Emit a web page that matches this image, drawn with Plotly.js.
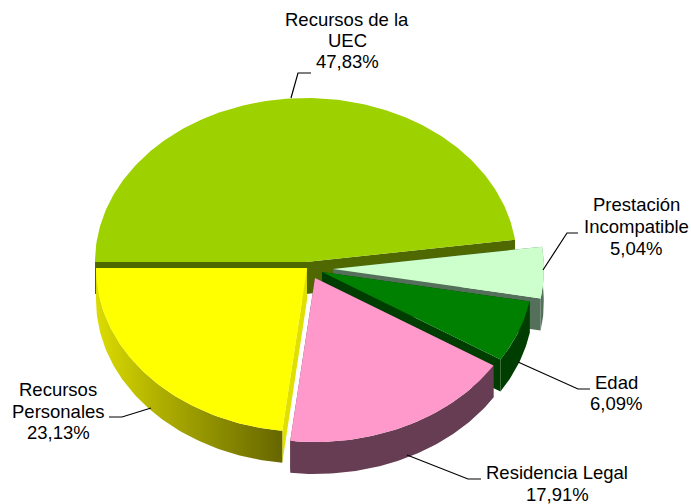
<!DOCTYPE html>
<html><head><meta charset="utf-8">
<script src="https://cdn.plot.ly/plotly-3.0.1.min.js"></script>
<style>html,body{margin:0;padding:0;background:#fff}#c{width:691px;height:504px}</style>
</head><body><div id="c"></div>
<script>
// Data
const categories = ["Recursos de la UEC","Prestación Incompatible","Edad","Residencia Legal","Recursos Personales"];
const shares = [47.83,5.04,6.09,17.91,23.13];
const labelLines = [["Recursos de la","UEC","47,83%"],["Prestación","Incompatible","5,04%"],["Edad","6,09%"],["Residencia Legal","17,91%"],["Recursos","Personales","23,13%"]];

// Styles and geometry of the tilted, exploded pie
const faceColors = ["#9dd100","#ccffcc","#008000","#ff99cc","#ffff00"];
const cutColors  = ["#4f6900","#55705a","#003d00","#663d52","#e0e000"];
const wallScales = [
  [[0,"#4f6900"],[1,"#4f6900"]],
  [[0,"#55705a"],[0.75,"#55705a"],[1,"#b5c9ba"]],
  [[0,"#003d00"],[1,"#003d00"]],
  [[0,"#663d52"],[1,"#663d52"]],
  [[0,"#dcdc00"],[0.35,"#aeae00"],[1,"#666600"]]
];
const centers = [[306,262],[333,269],[322,272],[315,278],[307,268]];
const drawOrder = [0,1,2,4,3];
const RX = 211, RY = 164, DEPTH = 32, START_DEG = -90;
const leaders = [
  [[291,98],[298,73],[311,73]],
  [[543,270],[567,233],[578,233]],
  [[518,362],[578,389],[590,389]],
  [[407,455],[468,479],[481,479]],
  [[151,408],[122,417],[109,417]]
];
const labelX = [347,636,616,557,58];
const labelY = [[19,40,61],[204,226,248],[382,403],[472,494],[389,411,432]];

const total = shares.reduce((a,b)=>a+b,0);
let acc = START_DEG;
const spans = shares.map(v=>{const a=acc; acc+=v/total*360; return [a,acc];});
const rad = d=>d*Math.PI/180;
function pt(i,deg){const c=centers[i];return [c[0]+RX*Math.sin(rad(deg)),c[1]-RY*Math.cos(rad(deg))];}
function arc(i,a,b){const n=Math.max(2,Math.ceil(Math.abs(b-a)));const o=[];for(let k=0;k<=n;k++)o.push(pt(i,a+(b-a)*k/n));return o;}
function poly(points,color,extra){
  const t={type:"scatter",mode:"lines",x:points.map(p=>p[0]).concat(points[0][0]),y:points.map(p=>p[1]).concat(points[0][1]),
    fill:"toself",fillcolor:color,line:{width:0,color:color},hoverinfo:"skip",showlegend:false};
  return Object.assign(t,extra||{});
}
const traces=[];
drawOrder.forEach(i=>{
  const [a,b]=spans[i], c=centers[i];
  const down=p=>[p[0],p[1]+DEPTH];
  [a,b].forEach(d=>{const e=pt(i,d);traces.push(poly([c,e,down(e),down(c)],cutColors[i]));});
  if(i!==0){
    const rim=arc(i,a,b);
    const wallPts=rim.concat(rim.slice().reverse().map(down));
    traces.push(poly(wallPts,cutColors[i],{fillgradient:{type:"horizontal",colorscale:wallScales[i]}}));
  }
  traces.push(poly([c].concat(arc(i,a,b)),faceColors[i],{name:categories[i]}));
});
leaders.forEach(l=>traces.push({type:"scatter",mode:"lines",x:l.map(p=>p[0]),y:l.map(p=>p[1]),line:{color:"#000",width:1.2},hoverinfo:"skip",showlegend:false}));

const annotations=[];
labelLines.forEach((lines,i)=>lines.forEach((t,k)=>annotations.push({x:labelX[i],y:labelY[i][k],xref:"x",yref:"y",text:t,showarrow:false,align:"center",xanchor:"center",yanchor:"middle",font:{family:"Liberation Sans, Arial, sans-serif",size:18.5,color:"#000"}})));
const axis={visible:false,fixedrange:true,showgrid:false,zeroline:false};
Plotly.newPlot("c",traces,{width:691,height:504,margin:{l:0,r:0,t:0,b:0,pad:0},paper_bgcolor:"#fff",plot_bgcolor:"#fff",showlegend:false,
  xaxis:Object.assign({range:[0,691]},axis),yaxis:Object.assign({range:[504,0]},axis),annotations},{staticPlot:true,displayModeBar:false});
</script></body></html>
